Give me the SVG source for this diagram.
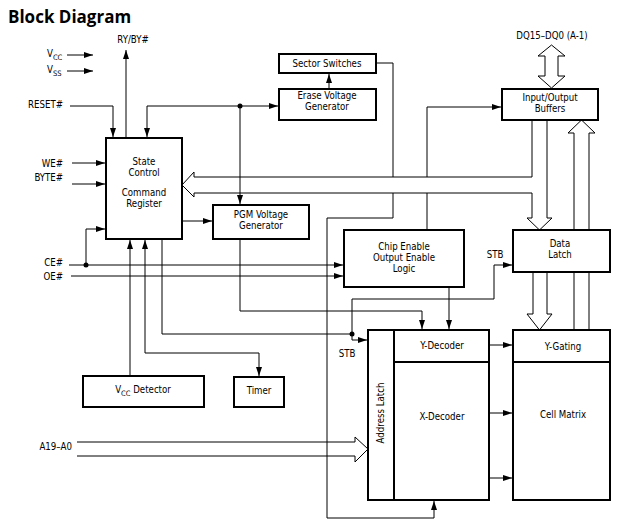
<svg xmlns="http://www.w3.org/2000/svg" width="625" height="528" viewBox="0 0 625 528">
<style>
.t{font-family:"DejaVu Sans Condensed","DejaVu Sans",sans-serif;font-stretch:condensed;font-size:9.6px;fill:#000}
.m{text-anchor:middle}
.e{text-anchor:end}
.b{fill:#fff;stroke:#000;stroke-width:2}
.l{fill:none;stroke:#000;stroke-width:1}
.a{marker-end:url(#ah)}
.h{fill:#fff;stroke:#000;stroke-width:1}
</style>
<defs>
<marker id="ah" markerUnits="userSpaceOnUse" markerWidth="9" markerHeight="7" refX="9" refY="3" orient="auto">
<path d="M0,0 L9,3 L0,6 z" fill="#000"/>
</marker>
</defs>
<rect width="625" height="528" fill="#fff"/>
<text x="8" y="23" font-family="'Open Sans','DejaVu Sans',sans-serif" font-weight="bold" font-size="17">Block Diagram</text>

<g id="connectors">
<line class="l a" x1="67" y1="55" x2="93" y2="55"/>
<line class="l a" x1="67" y1="71" x2="93" y2="71"/>
<line class="l a" x1="126" y1="138" x2="126" y2="50"/>
<polyline class="l a" points="70,106 113,106 113,137"/>
<polyline class="l a" points="240,106 147,106 147,137"/>
<line class="l a" x1="240" y1="106" x2="278" y2="106"/>
<line class="l a" x1="240" y1="106" x2="240" y2="204"/>
<circle cx="240" cy="106" r="2.5" fill="#000"/>
<line class="l a" x1="329" y1="89" x2="329" y2="74"/>
<line class="l a" x1="72" y1="163" x2="105" y2="163"/>
<line class="l a" x1="72" y1="184" x2="105" y2="184"/>
<line class="l a" x1="69" y1="265" x2="343" y2="265"/>
<line class="l a" x1="71" y1="276" x2="343" y2="276"/>
<polyline class="l a" points="86,265 86,229 105,229"/>
<circle cx="86" cy="265" r="2.5" fill="#000"/>
<line class="l a" x1="182" y1="221" x2="212" y2="221"/>
<line class="l a" x1="130" y1="376" x2="130" y2="240"/>
<line class="l a" x1="145" y1="353" x2="145" y2="240"/>
<polyline class="l a" points="145,353 259,353 259,376"/>
<polyline class="l" points="162,239 162,334 352,334"/>
<polyline class="l a" points="352,334 352,340 367,340"/>
<polyline class="l a" points="352,334 352,299 494,299 494,265 512,265"/>
<circle cx="352" cy="334" r="2.5" fill="#000"/>
<polyline class="l a" points="240,239 240,311 422,311 422,329"/>
<line class="l a" x1="449" y1="287" x2="449" y2="329"/>
<polyline class="l" points="376,63 393,63 393,177"/>
<polyline class="l a" points="393,193 393,218 327,218 327,518 434,518 434,501"/>
<polyline class="l" points="427,230 427,193"/>
<polyline class="l a" points="427,177 427,107 501,107"/>
<line class="l a" x1="489" y1="345" x2="512" y2="345"/>
<line class="l a" x1="489" y1="413" x2="512" y2="413"/>
<line class="l a" x1="489" y1="478" x2="512" y2="478"/>
<path class="l" d="M532,121 V177 H194 V172 L182,185 L194,197 V193 H532 V218 H527 L539.5,230 L552,218 H547 V121"/>
<path class="l" d="M533,272 V314 H527 L539.5,330 L552,314 H547 V272"/>
<path class="l" d="M574,330 V272 M589,330 V272"/>
<path class="l" d="M574,230 V133 H568 L581.5,120 L595,133 H589 V230"/>
<path class="h" d="M545,56 H538 L551.5,45 L565,56 H558 V76 H565 L551.5,88 L538,76 H545 Z"/>
<path class="l" d="M77,442 H355 V437 L368,449 L355,462 V456 H77"/>
</g>

<g id="labels">
<text class="t" x="47" y="57">V<tspan font-size="7.5" dy="3">CC</tspan></text>
<text class="t" x="47" y="73">V<tspan font-size="7.5" dy="3">SS</tspan></text>
<text class="t m" x="133" y="43">RY/BY#</text>
<text class="t e" x="63" y="108">RESET#</text>
<text class="t e" x="63" y="167">WE#</text>
<text class="t e" x="63" y="181">BYTE#</text>
<text class="t e" x="63" y="266">CE#</text>
<text class="t e" x="63" y="280">OE#</text>
<text class="t e" x="72" y="450">A19–A0</text>
<text class="t m" x="552" y="39">DQ15–DQ0 (A-1)</text>
<text class="t m" x="347" y="357">STB</text>
<text class="t m" x="495" y="258">STB</text>
</g>

<g id="state-control">
<rect class="b" x="106" y="138" width="76" height="101"/>
<text class="t m" x="144" y="165">State</text>
<text class="t m" x="144" y="176">Control</text>
<text class="t m" x="144" y="196">Command</text>
<text class="t m" x="144" y="207">Register</text>
</g>
<g id="sector-switches">
<rect class="b" x="279" y="54" width="97" height="19"/>
<text class="t m" x="327" y="67">Sector Switches</text>
</g>
<g id="erase-voltage-generator">
<rect class="b" x="279" y="89" width="97" height="31"/>
<text class="t m" x="327" y="99">Erase Voltage</text>
<text class="t m" x="327" y="110">Generator</text>
</g>
<g id="pgm-voltage-generator">
<rect class="b" x="213" y="205" width="96" height="34"/>
<text class="t m" x="261" y="218">PGM Voltage</text>
<text class="t m" x="261" y="229">Generator</text>
</g>
<g id="chip-enable-logic">
<rect class="b" x="344" y="230" width="120" height="57"/>
<text class="t m" x="404" y="250">Chip Enable</text>
<text class="t m" x="404" y="261">Output Enable</text>
<text class="t m" x="404" y="272">Logic</text>
</g>
<g id="io-buffers">
<rect class="b" x="502" y="89" width="96" height="31"/>
<text class="t m" x="550" y="101">Input/Output</text>
<text class="t m" x="550" y="112">Buffers</text>
</g>
<g id="data-latch">
<rect class="b" x="513" y="230" width="97" height="42"/>
<text class="t m" x="560" y="247">Data</text>
<text class="t m" x="560" y="258">Latch</text>
</g>
<g id="decoders">
<rect class="b" x="368" y="330" width="121" height="170"/>
<line x1="394" y1="330" x2="394" y2="500" stroke="#000" stroke-width="2"/>
<line x1="394" y1="362" x2="489" y2="362" stroke="#000" stroke-width="2"/>
<text class="t m" transform="translate(384,413) rotate(-90)">Address Latch</text>
<text class="t m" x="442" y="349">Y-Decoder</text>
<text class="t m" x="442" y="420">X-Decoder</text>
</g>
<g id="cell-matrix">
<rect class="b" x="513" y="330" width="97" height="170"/>
<line x1="513" y1="362" x2="610" y2="362" stroke="#000" stroke-width="2"/>
<text class="t m" x="563" y="350">Y-Gating</text>
<text class="t m" x="563" y="418">Cell Matrix</text>
</g>
<g id="vcc-detector">
<rect class="b" x="83" y="376" width="121" height="31"/>
<text class="t m" x="143" y="393">V<tspan font-size="7.5" dy="3">CC</tspan><tspan dy="-3"> Detector</tspan></text>
</g>
<g id="timer">
<rect class="b" x="234" y="377" width="50" height="30"/>
<text class="t m" x="259" y="394">Timer</text>
</g>
</svg>
